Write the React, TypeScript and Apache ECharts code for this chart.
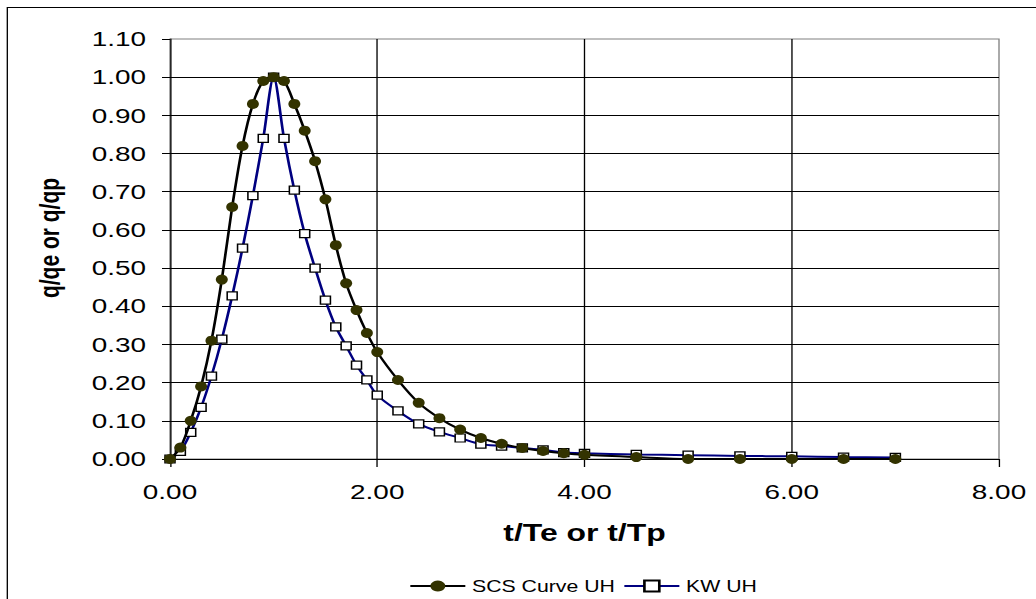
import React, { useEffect, useRef } from "react";
import * as echarts from "echarts";

// Time ratio t/Te or t/Tp
const tValues = [
  0, 0.1, 0.2, 0.3, 0.4, 0.5, 0.6, 0.7, 0.8, 0.9, 1.0, 1.1, 1.2, 1.3, 1.4, 1.5, 1.6, 1.7, 1.8, 1.9, 2.0,
  2.2, 2.4, 2.6, 2.8, 3.0, 3.2, 3.4, 3.6, 3.8, 4.0, 4.5, 5.0, 5.5, 6.0, 6.5, 7.0,
];
// SCS Curve UH (q/qp)
const scsValues = [
  0, 0.03, 0.1, 0.19, 0.31, 0.47, 0.66, 0.82, 0.93, 0.99, 1.0, 0.99, 0.93, 0.86, 0.78, 0.68, 0.56, 0.46, 0.39, 0.33, 0.28,
  0.207, 0.147, 0.107, 0.077, 0.055, 0.04, 0.029, 0.021, 0.015, 0.011, 0.005, 0, 0, 0, 0, 0,
];
// KW UH (q/qe)
const kwValues = [
  0, 0.02, 0.07, 0.135, 0.217, 0.314, 0.427, 0.552, 0.69, 0.84, 1.0, 0.84, 0.704, 0.59, 0.5, 0.416, 0.346, 0.296, 0.246, 0.207, 0.167,
  0.126, 0.092, 0.071, 0.055, 0.039, 0.034, 0.029, 0.024, 0.017, 0.015, 0.012, 0.01, 0.008, 0.007, 0.005, 0.004,
];
const seriesNames = ["SCS Curve UH", "KW UH"];
const xTitle = "t/Te or t/Tp";
const yTitle = "q/qe or q/qp";

// horizontal stretch of the original picture
const S = 1036 / 779;
const W = 779;
const H = 599;

export default function App() {
  const ref = useRef<HTMLDivElement>(null);
  useEffect(() => {
    document.documentElement.style.overflow = "hidden";
    document.body.style.overflow = "hidden";
    const chart = echarts.init(ref.current!, null, { renderer: "svg" });
    const font = "'Liberation Sans', Arial, sans-serif";
    const scsData = tValues.map((t, i) => [t, scsValues[i]]);
    const kwData = tValues.map((t, i) => [t, kwValues[i]]);
    chart.setOption({
      animation: false,
      backgroundColor: "#ffffff",
      textStyle: { fontFamily: font, color: "#000" },
      graphic: [
        {
          type: "rect",
          shape: { x: 5.5, y: 7.5, width: 2000, height: 2000 },
          style: { fill: "none", stroke: "#000", lineWidth: 1 },
          silent: true,
        },
      ],
      grid: {
        left: 170 / S,
        top: 39,
        width: 999 / S - 170 / S,
        height: 420,
        show: true,
        borderColor: "#808080",
        borderWidth: 1,
        backgroundColor: "transparent",
      },
      legend: {
        data: seriesNames,
        left: 409 / S,
        top: 578,
        padding: 0,
        itemWidth: 55 / S,
        itemHeight: 14,
        itemGap: 6,
        textStyle: { fontFamily: font, fontSize: 16, color: "#000" },
      },
      xAxis: {
        type: "value",
        min: 0,
        max: 8,
        interval: 2,
        name: xTitle,
        nameLocation: "middle",
        nameGap: 61,
        nameTextStyle: { fontFamily: font, fontSize: 24, fontWeight: "bold", color: "#000" },
        axisLine: { show: true, onZero: false, lineStyle: { color: "#000", width: 1 } },
        axisTick: { show: true, inside: false, length: 8, lineStyle: { color: "#000" } },
        axisLabel: {
          margin: 22,
          fontSize: 21,
          color: "#000",
          fontFamily: font,
          formatter: (v: number) => v.toFixed(2),
        },
        splitLine: { show: true, showMinLine: false, showMaxLine: false, lineStyle: { color: "#000", width: 1 } },
      },
      yAxis: {
        type: "value",
        min: 0,
        max: 1.1,
        interval: 0.1,
        name: yTitle,
        nameLocation: "middle",
        nameRotate: 90,
        nameGap: 80,
        nameTextStyle: {
          fontFamily: font,
          fontSize: 21,
          fontWeight: "bold",
          color: "#000",
          padding: [0, 0, 0, 22],
        },
        axisLine: { show: true, onZero: false, lineStyle: { color: "#000", width: 1 } },
        axisTick: { show: true, inside: false, length: 6, lineStyle: { color: "#000" } },
        axisLabel: {
          margin: 18,
          fontSize: 21,
          color: "#000",
          fontFamily: font,
          formatter: (v: number) => v.toFixed(2),
        },
        splitLine: { show: true, showMinLine: false, showMaxLine: false, lineStyle: { color: "#000", width: 1 } },
      },
      series: [
        {
          name: seriesNames[1],
          type: "line",
          data: kwData,
          smooth: 0.3,
          symbol: "rect",
          symbolSize: [7.5, 8],
          showAllSymbol: true,
          z: 2,
          lineStyle: { color: "#000080", width: 2 },
          itemStyle: { color: "#ffffff", borderColor: "#000", borderWidth: 1.2 },
        },
        {
          name: seriesNames[0],
          type: "line",
          data: scsData,
          smooth: 0.3,
          symbol: "circle",
          symbolSize: [9, 10],
          showAllSymbol: true,
          z: 3,
          lineStyle: { color: "#000", width: 2 },
          itemStyle: { color: "#333300", borderColor: "#333300", borderWidth: 0 },
        },
      ],
    });
    return () => chart.dispose();
  }, []);
  return (
    <div
      ref={ref}
      style={{
        position: "absolute",
        left: 0,
        top: 0,
        width: W,
        height: H,
        transform: `scaleX(${S})`,
        transformOrigin: "0 0",
      }}
    />
  );
}
